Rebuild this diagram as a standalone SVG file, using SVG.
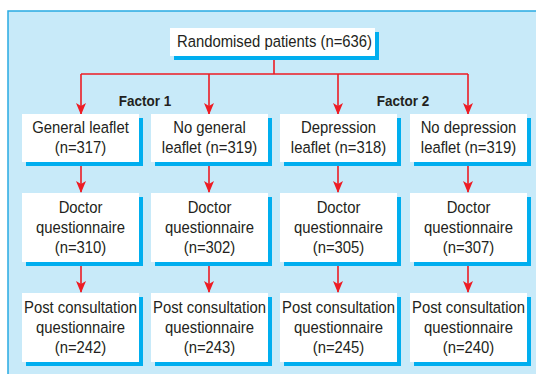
<svg xmlns="http://www.w3.org/2000/svg" width="536" height="374" viewBox="0 0 536 374">
<defs>
<style>
.bg{fill:#c8eaf9;stroke:#29abe2;stroke-width:1.5}
.sh{fill:#00aeef}
.bx{fill:#ffffff}
.t{font-family:"Liberation Sans",Arial,sans-serif;font-size:16.5px;fill:#231f20;text-anchor:middle}
.f{font-family:"Liberation Sans",Arial,sans-serif;font-size:15px;font-weight:bold;fill:#231f20;text-anchor:middle}
.c{fill:none;stroke:#ed1c24;stroke-width:1.6}
</style>
<marker id="ah" viewBox="0 0 12 16" refX="11" refY="8" markerWidth="12" markerHeight="16" markerUnits="userSpaceOnUse" orient="auto">
<path d="M0,3 L12,8 L0,13 L3,8 z" fill="#ed1c24"/>
</marker>
</defs>
<rect class="bg" x="8" y="11" width="540" height="370"/>

<g id="connectors">
<path class="c" d="M274,57 V74 M81,74 H468"/>
<path class="c" d="M81,74 V114" marker-end="url(#ah)"/>
<path class="c" d="M209,74 V114" marker-end="url(#ah)"/>
<path class="c" d="M338,74 V114" marker-end="url(#ah)"/>
<path class="c" d="M468,74 V114" marker-end="url(#ah)"/>
<path class="c" d="M81,162 V192" marker-end="url(#ah)"/>
<path class="c" d="M209,162 V192" marker-end="url(#ah)"/>
<path class="c" d="M338,162 V192" marker-end="url(#ah)"/>
<path class="c" d="M468,162 V192" marker-end="url(#ah)"/>
<path class="c" d="M81,262 V292" marker-end="url(#ah)"/>
<path class="c" d="M209,262 V292" marker-end="url(#ah)"/>
<path class="c" d="M338,262 V292" marker-end="url(#ah)"/>
<path class="c" d="M468,262 V292" marker-end="url(#ah)"/>
</g>

<g id="factor1"><text class="f" transform="translate(145,106) scale(0.9,1)">Factor 1</text></g>
<g id="factor2"><text class="f" transform="translate(403,106) scale(0.9,1)">Factor 2</text></g>

<g id="randomised">
<rect class="sh" x="174" y="32" width="205" height="28"/>
<rect class="bx" x="170" y="28" width="205" height="28"/>
<text class="t" transform="translate(274.5,47) scale(0.9,1)">Randomised patients (n=636)</text>
</g>

<g id="general">
<rect class="sh" x="26" y="118" width="117" height="48"/>
<rect class="bx" x="22" y="114" width="117" height="48"/>
<text class="t" transform="translate(80.5,133) scale(0.9,1)">General leaflet</text>
<text class="t" transform="translate(80.5,153) scale(0.9,1)">(n=317)</text>
</g>
<g id="nogeneral">
<rect class="sh" x="155" y="118" width="117" height="48"/>
<rect class="bx" x="151" y="114" width="117" height="48"/>
<text class="t" transform="translate(209.5,133) scale(0.9,1)">No general</text>
<text class="t" transform="translate(209.5,153) scale(0.9,1)">leaflet (n=319)</text>
</g>
<g id="depression">
<rect class="sh" x="284" y="118" width="117" height="48"/>
<rect class="bx" x="280" y="114" width="117" height="48"/>
<text class="t" transform="translate(338.5,133) scale(0.9,1)">Depression</text>
<text class="t" transform="translate(338.5,153) scale(0.9,1)">leaflet (n=318)</text>
</g>
<g id="nodepression">
<rect class="sh" x="414" y="118" width="117" height="48"/>
<rect class="bx" x="410" y="114" width="117" height="48"/>
<text class="t" transform="translate(468.5,133) scale(0.9,1)">No depression</text>
<text class="t" transform="translate(468.5,153) scale(0.9,1)">leaflet (n=319)</text>
</g>

<g id="doctor1">
<rect class="sh" x="26" y="197" width="117" height="69"/>
<rect class="bx" x="22" y="193" width="117" height="69"/>
<text class="t" transform="translate(80.5,213) scale(0.9,1)">Doctor</text>
<text class="t" transform="translate(80.5,233) scale(0.9,1)">questionnaire</text>
<text class="t" transform="translate(80.5,253) scale(0.9,1)">(n=310)</text>
</g>
<g id="doctor2">
<rect class="sh" x="155" y="197" width="117" height="69"/>
<rect class="bx" x="151" y="193" width="117" height="69"/>
<text class="t" transform="translate(209.5,213) scale(0.9,1)">Doctor</text>
<text class="t" transform="translate(209.5,233) scale(0.9,1)">questionnaire</text>
<text class="t" transform="translate(209.5,253) scale(0.9,1)">(n=302)</text>
</g>
<g id="doctor3">
<rect class="sh" x="284" y="197" width="117" height="69"/>
<rect class="bx" x="280" y="193" width="117" height="69"/>
<text class="t" transform="translate(338.5,213) scale(0.9,1)">Doctor</text>
<text class="t" transform="translate(338.5,233) scale(0.9,1)">questionnaire</text>
<text class="t" transform="translate(338.5,253) scale(0.9,1)">(n=305)</text>
</g>
<g id="doctor4">
<rect class="sh" x="414" y="197" width="117" height="69"/>
<rect class="bx" x="410" y="193" width="117" height="69"/>
<text class="t" transform="translate(468.5,213) scale(0.9,1)">Doctor</text>
<text class="t" transform="translate(468.5,233) scale(0.9,1)">questionnaire</text>
<text class="t" transform="translate(468.5,253) scale(0.9,1)">(n=307)</text>
</g>

<g id="post1">
<rect class="sh" x="26" y="297" width="117" height="69"/>
<rect class="bx" x="22" y="293" width="117" height="69"/>
<text class="t" transform="translate(80.5,313) scale(0.9,1)">Post consultation</text>
<text class="t" transform="translate(80.5,333) scale(0.9,1)">questionnaire</text>
<text class="t" transform="translate(80.5,353) scale(0.9,1)">(n=242)</text>
</g>
<g id="post2">
<rect class="sh" x="155" y="297" width="117" height="69"/>
<rect class="bx" x="151" y="293" width="117" height="69"/>
<text class="t" transform="translate(209.5,313) scale(0.9,1)">Post consultation</text>
<text class="t" transform="translate(209.5,333) scale(0.9,1)">questionnaire</text>
<text class="t" transform="translate(209.5,353) scale(0.9,1)">(n=243)</text>
</g>
<g id="post3">
<rect class="sh" x="284" y="297" width="117" height="69"/>
<rect class="bx" x="280" y="293" width="117" height="69"/>
<text class="t" transform="translate(338.5,313) scale(0.9,1)">Post consultation</text>
<text class="t" transform="translate(338.5,333) scale(0.9,1)">questionnaire</text>
<text class="t" transform="translate(338.5,353) scale(0.9,1)">(n=245)</text>
</g>
<g id="post4">
<rect class="sh" x="414" y="297" width="117" height="69"/>
<rect class="bx" x="410" y="293" width="117" height="69"/>
<text class="t" transform="translate(468.5,313) scale(0.9,1)">Post consultation</text>
<text class="t" transform="translate(468.5,333) scale(0.9,1)">questionnaire</text>
<text class="t" transform="translate(468.5,353) scale(0.9,1)">(n=240)</text>
</g>
</svg>
